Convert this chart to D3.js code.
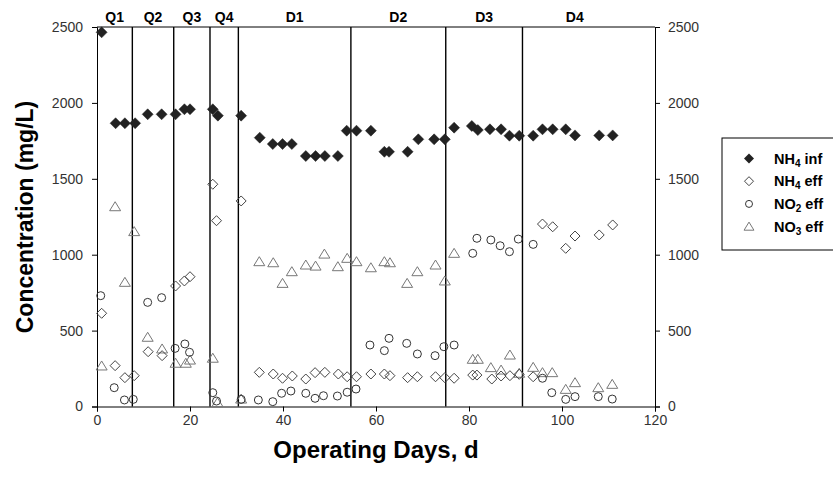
<!DOCTYPE html>
<html><head><meta charset="utf-8">
<script src="https://cdn.jsdelivr.net/npm/d3@7"></script>
<style>
html,body{margin:0;padding:0;background:#fff;}
svg{display:block;}
.tick text{font-family:"Liberation Sans",Arial,sans-serif;font-size:14px;fill:#333;}
</style></head>
<body>
<svg id="c" width="833" height="477"></svg>
<script>
// ---- data ----
const nh4InfDays = [1,4,6,8.2,10.9,13.9,16.9,18.8,20,24.9,26,31,35,37.8,39.9,41.9,44.9,47,49,51.8,53.7,55.8,58.9,61.8,62.8,66.8,69.1,72.5,74.8,76.8,80.6,81.9,84.5,86.9,88.7,90.8,93.8,95.8,98,100.8,102.8,108,110.9];
const nh4InfVals = [2465,1866,1866,1866,1925,1925,1925,1958,1958,1958,1916,1916,1771,1729,1729,1729,1650,1650,1650,1650,1817,1817,1817,1678,1678,1678,1760,1760,1760,1837,1848,1821,1826,1826,1784,1784,1784,1826,1826,1826,1786,1786,1786];

const nh4EffDays = [1,3.9,6,8,11,14,16.9,18.8,20,24.9,25.7,31,34.9,37.9,39.9,42,44.9,46.9,49,51.9,53.8,55.8,58.9,61.8,63,66.8,68.9,72.8,74.8,76.8,80.8,81.7,84.9,86.9,88.8,90.8,93.8,95.8,98,100.8,102.8,108,110.9];
const nh4EffVals = [614,269,190,203,361,335,794,827,855,1464,1224,1354,225,214,186,201,181,223,225,214,196,196,214,214,203,190,196,196,190,186,207,207,181,201,203,212,196,1202,1184,1042,1123,1130,1196];

const no2EffDays = [0.8,3.7,5.9,7.8,10.9,13.9,16.8,18.9,19.9,24.9,25.7,31,34.7,37.8,39.7,41.7,44.9,46.9,48.7,51.7,53.8,55.7,58.7,61.8,62.8,66.6,68.9,72.7,74.6,76.8,80.8,81.7,84.7,86.7,88.7,90.6,93.8,95.8,97.8,100.8,102.8,107.8,110.8];
const no2EffVals = [730,124,43,47,686,717,383,412,357,91,36,47,43,32,87,102,87,54,71,69,94,115,405,368,449,416,346,335,394,405,1009,1108,1097,1059,1020,1103,1068,186,91,47,65,65,49];

const no3EffDays = [1,3.9,6,8,10.9,14,16.9,19.1,20,24.9,25.9,31,34.9,37.9,39.9,41.9,44.9,47,48.9,51.8,53.8,55.8,58.9,61.8,63,66.7,68.9,72.8,74.8,76.8,80.8,81.9,84.7,86.9,88.8,90.8,93.8,95.8,97.9,100.8,102.8,107.8,110.8];
const no3EffVals = [267,1316,818,1152,456,379,285,285,306,318,25,49,954,947,811,888,932,925,1004,921,976,954,914,954,947,811,888,932,827,1009,311,311,256,240,339,219,258,223,223,113,157,124,146];

const phaseBounds = [7.6,16.5,24.3,30.4,54.6,75,91.5];
const phaseLabels = ["Q1","Q2","Q3","Q4","D1","D2","D3","D4"];
const yTicks = [0,500,1000,1500,2000,2500];
const xTicks = [0,20,40,60,80,100,120];

// ---- chart ----
const svg = d3.select("#c");
const x = d3.scaleLinear().domain([0,120]).range([97,655]);
const y = d3.scaleLinear().domain([0,2500]).range([406.5,27]);
const font = "'Liberation Sans',Arial,sans-serif";

// axes
svg.append("g").attr("transform","translate(97,0)")
  .call(d3.axisLeft(y).tickValues(yTicks).tickSize(5).tickPadding(9).tickFormat(d3.format("d")))
  .call(g=>g.select(".domain").attr("stroke","#000"));
svg.append("g").attr("transform","translate(655,0)")
  .call(d3.axisRight(y).tickValues(yTicks).tickSize(5).tickPadding(8).tickFormat(d3.format("d")))
  .call(g=>g.select(".domain").attr("stroke","#000"));
svg.append("g").attr("transform","translate(0,406.5)")
  .call(d3.axisBottom(x).tickValues(xTicks).tickSize(5).tickPadding(4).tickFormat(d3.format("d")))
  .call(g=>g.select(".domain").attr("stroke","#000"));
svg.selectAll(".tick line").attr("stroke","#000");

// top line
svg.append("line").attr("x1",x(0)).attr("x2",x(120)).attr("y1",y(2500)).attr("y2",y(2500))
  .attr("stroke","#000").attr("stroke-width",1);

// phase boundaries
svg.selectAll("line.phase").data(phaseBounds).join("line").attr("class","phase")
  .attr("x1",d=>x(d)).attr("x2",d=>x(d)).attr("y1",y(2500)).attr("y2",y(0))
  .attr("stroke","#000").attr("stroke-width",1.4);

// phase labels
const edges = [0].concat(phaseBounds).concat([120]);
const labelPos = phaseLabels.map((l,i)=>{
  let a = edges[i], b = edges[i+1];
  if(i===7) b = 114;
  return {l, c:(a+b)/2};
});
svg.selectAll("text.ph").data(labelPos).join("text").attr("class","ph")
  .attr("x",d=>x(d.c)).attr("y",22).attr("text-anchor","middle")
  .attr("font-family",font).attr("font-weight","bold").attr("font-size",14)
  .text(d=>d.l);

// markers
const diamond = s => `M0,${-s}L${s},0L0,${s}L${-s},0Z`;
const triangle = s => `M0,${-s}L${s*1.1},${s*0.8}L${-s*1.1},${s*0.8}Z`;
function pts(days, vals){ return days.map((d,i)=>({d, v:vals[i]})); }

svg.append("g").selectAll("path").data(pts(no3EffDays,no3EffVals)).join("path")
  .attr("d",triangle(5)).attr("transform",p=>`translate(${x(p.d)},${y(p.v)})`)
  .attr("fill","none").attr("stroke","#777").attr("stroke-width",1);
svg.append("g").selectAll("circle").data(pts(no2EffDays,no2EffVals)).join("circle")
  .attr("cx",p=>x(p.d)).attr("cy",p=>y(p.v)).attr("r",4)
  .attr("fill","none").attr("stroke","#333").attr("stroke-width",1);
svg.append("g").selectAll("path").data(pts(nh4EffDays,nh4EffVals)).join("path")
  .attr("d",diamond(5)).attr("transform",p=>`translate(${x(p.d)},${y(p.v)})`)
  .attr("fill","none").attr("stroke","#444").attr("stroke-width",1);
svg.append("g").selectAll("path").data(pts(nh4InfDays,nh4InfVals)).join("path")
  .attr("d",diamond(5.5)).attr("transform",p=>`translate(${x(p.d)},${y(p.v)})`)
  .attr("fill","#222").attr("stroke","#222").attr("stroke-width",0.5);

// axis titles
svg.append("text").attr("transform","translate(33,217) rotate(-90)").attr("text-anchor","middle")
  .attr("font-family",font).attr("font-weight","bold").attr("font-size",23).text("Concentration (mg/L)");
svg.append("text").attr("x",376).attr("y",458).attr("text-anchor","middle")
  .attr("font-family",font).attr("font-weight","bold").attr("font-size",24).text("Operating Days, d");

// legend
const lg = svg.append("g");
lg.append("rect").attr("x",722).attr("y",138).attr("width",120).attr("height",112)
  .attr("fill","#fff").attr("stroke","#000").attr("stroke-width",1);
const legendItems = [
  {main:"NH", sub:"4", rest:" inf", sym:"fd"},
  {main:"NH", sub:"4", rest:" eff", sym:"od"},
  {main:"NO", sub:"2", rest:" eff", sym:"c"},
  {main:"NO", sub:"3", rest:" eff", sym:"t"}
];
legendItems.forEach((it,i)=>{
  const cy = 158.5 + i*22.7;
  if(it.sym==="fd") lg.append("path").attr("d",diamond(5)).attr("transform",`translate(749,${cy})`).attr("fill","#222");
  if(it.sym==="od") lg.append("path").attr("d",diamond(4.5)).attr("transform",`translate(749,${cy})`).attr("fill","none").attr("stroke","#444");
  if(it.sym==="c") lg.append("circle").attr("cx",749).attr("cy",cy).attr("r",3.5).attr("fill","none").attr("stroke","#333");
  if(it.sym==="t") lg.append("path").attr("d",triangle(4.5)).attr("transform",`translate(749,${cy})`).attr("fill","none").attr("stroke","#777");
  const t = lg.append("text").attr("x",774).attr("y",cy+5).attr("font-family",font).attr("font-weight","bold").attr("font-size",14.5);
  t.append("tspan").text(it.main);
  t.append("tspan").attr("font-size",10).attr("dy",3).text(it.sub);
  t.append("tspan").attr("dy",-3).text(it.rest);
});
</script>
</body></html>
